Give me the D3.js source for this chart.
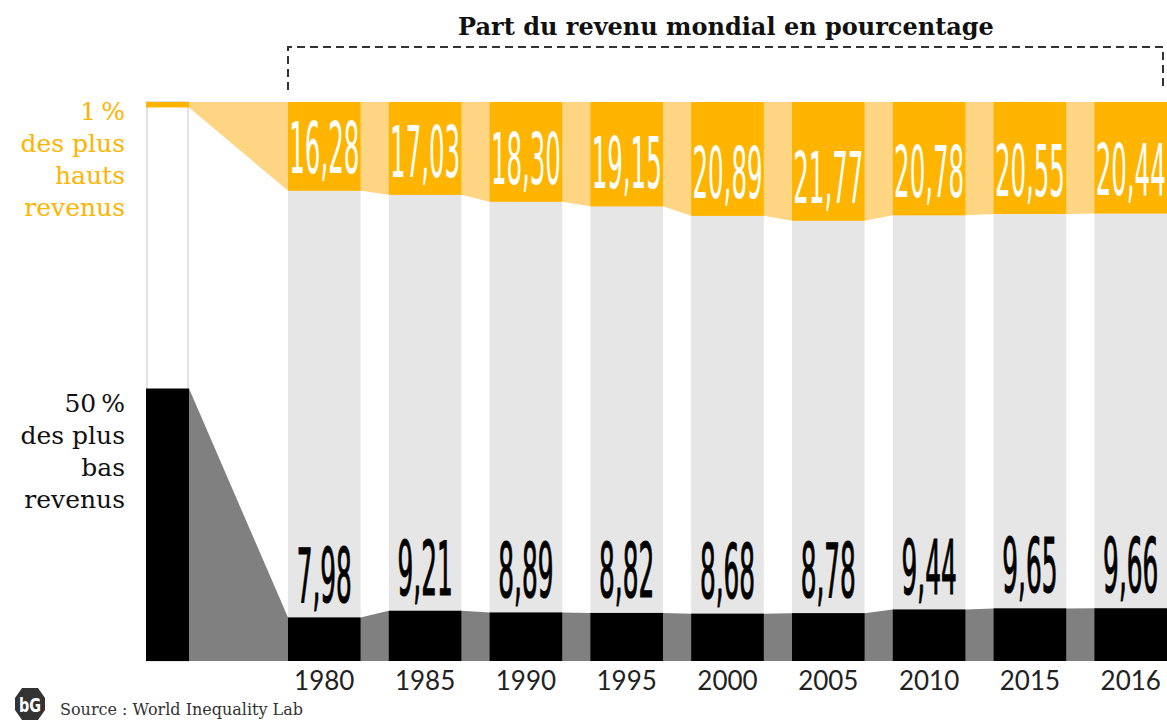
<!DOCTYPE html>
<html>
<head>
<meta charset="utf-8">
<script src="https://cdn.jsdelivr.net/npm/d3@7"></script>
<style>
  body { margin:0; background:#fff; }
  svg { display:block; }
</style>
</head>
<body>
<div id="chart"></div>
<script>
// data
var years = ["1980","1985","1990","1995","2000","2005","2010","2015","2016"];
var top1 = [16.28, 17.03, 18.30, 19.15, 20.89, 21.77, 20.78, 20.55, 20.44];
var bottom50 = [7.98, 9.21, 8.89, 8.82, 8.68, 8.78, 9.44, 9.65, 9.66];
var refShares = [1, 50]; // population share of each group

var W = 1167, H = 722;
var yTop = 102, yBase = 661;

var orange = "#ffb400", lightOrange = "#fed683", band = "#e6e6e6", midGray = "#808080";

var svg = d3.select("#chart").append("svg")
    .attr("width", W)
    .attr("height", H);

var xScale = d3.scaleBand()
    .domain(years)
    .range([288, 1167])
    .paddingInner(0.28)
    .paddingOuter(0);

var hScale = d3.scaleLinear()
    .domain([0, 100])
    .range([0, 545]);

var refX = 146, refW = 43;

var rows = years.map(function(y, i) {
    return { year: y, top: top1[i], bottom: bottom50[i] };
});

// points for the connecting areas : reference column right edge, then each bar's edges
var pts = [{ x: refX + refW, top: refShares[0], bottom: refShares[1] }];
rows.forEach(function(d) {
    pts.push({ x: xScale(d.year), top: d.top, bottom: d.bottom });
    pts.push({ x: xScale(d.year) + xScale.bandwidth(), top: d.top, bottom: d.bottom });
});

// grey background columns
svg.selectAll("rect.col")
    .data(rows)
    .enter()
    .append("rect")
    .attr("class", "col")
    .attr("x", function(d) { return xScale(d.year); })
    .attr("y", yTop)
    .attr("width", xScale.bandwidth())
    .attr("height", yBase - yTop)
    .style("fill", band);

var topArea = d3.area()
    .x(function(d) { return d.x; })
    .y0(yTop)
    .y1(function(d) { return yTop + hScale(d.top); });

var bottomArea = d3.area()
    .x(function(d) { return d.x; })
    .y0(yBase)
    .y1(function(d) { return yBase - hScale(d.bottom); });

svg.append("path").attr("d", topArea(pts)).style("fill", lightOrange);
svg.append("path").attr("d", bottomArea(pts)).style("fill", midGray);

// reference column
svg.append("rect")
    .attr("x", refX + 1).attr("y", yTop)
    .attr("width", refW - 2).attr("height", yBase - yTop)
    .style("fill", "#fff")
    .style("stroke", "#e3e3e3")
    .style("stroke-width", 2);
svg.append("rect")
    .attr("x", refX).attr("y", yTop)
    .attr("width", refW).attr("height", hScale(refShares[0]))
    .style("fill", orange);
svg.append("rect")
    .attr("x", refX).attr("y", yBase - hScale(refShares[1]))
    .attr("width", refW).attr("height", hScale(refShares[1]))
    .style("fill", "#000");

// orange bars
svg.selectAll("rect.top1")
    .data(rows)
    .enter()
    .append("rect")
    .attr("class", "top1")
    .attr("x", function(d) { return xScale(d.year); })
    .attr("y", yTop)
    .attr("width", xScale.bandwidth())
    .attr("height", function(d) { return hScale(d.top); })
    .style("fill", orange);

// black bars
svg.selectAll("rect.bot50")
    .data(rows)
    .enter()
    .append("rect")
    .attr("class", "bot50")
    .attr("x", function(d) { return xScale(d.year); })
    .attr("y", function(d) { return yBase - hScale(d.bottom); })
    .attr("width", xScale.bandwidth())
    .attr("height", function(d) { return hScale(d.bottom); })
    .style("fill", "#000");

var fmt = function(v) { return d3.format(".2f")(v).replace(".", ","); };
var numFont = "'DejaVu Sans Condensed', 'DejaVu Sans', sans-serif";

// value labels
svg.selectAll("text.vtop")
    .data(rows)
    .enter()
    .append("text")
    .attr("class", "vtop")
    .attr("x", function(d) { return xScale(d.year) + xScale.bandwidth() / 2; })
    .attr("y", function(d) { return yTop + hScale(d.top) - 18; })
    .attr("text-anchor", "middle")
    .attr("font-family", numFont)
    .attr("font-size", 72)
    .attr("textLength", function(d) { return fmt(d.top).length * 14; })
    .attr("lengthAdjust", "spacingAndGlyphs")
    .style("fill", "#fff")
    .text(function(d) { return fmt(d.top); });

svg.selectAll("text.vbot")
    .data(rows)
    .enter()
    .append("text")
    .attr("class", "vbot")
    .attr("x", function(d) { return xScale(d.year) + xScale.bandwidth() / 2; })
    .attr("y", function(d) { return yBase - hScale(d.bottom) - 16; })
    .attr("text-anchor", "middle")
    .attr("font-family", numFont)
    .attr("font-size", 74)
    .attr("textLength", function(d) { return fmt(d.bottom).length * 13.8; })
    .attr("lengthAdjust", "spacingAndGlyphs")
    .style("fill", "#000")
    .style("stroke", "#000")
    .style("stroke-width", 1.2)
    .text(function(d) { return fmt(d.bottom); });

// year labels
svg.selectAll("text.year")
    .data(rows)
    .enter()
    .append("text")
    .attr("class", "year")
    .attr("x", function(d) { return xScale(d.year) + xScale.bandwidth() / 2; })
    .attr("y", 690)
    .attr("text-anchor", "middle")
    .attr("font-family", "Lato, sans-serif")
    .attr("font-size", 26)
    .style("fill", "#222")
    .text(function(d) { return d.year; });

// left group labels
var serif = "'DejaVu Serif', serif";
var lab1 = ["1\u2009%", "des plus", "hauts", "revenus"];
var lab50 = ["50\u2009%", "des plus", "bas", "revenus"];

svg.selectAll("text.lab1")
    .data(lab1)
    .enter()
    .append("text")
    .attr("class", "lab1")
    .attr("x", 125)
    .attr("y", function(d, i) { return 120 + i * 32; })
    .attr("text-anchor", "end")
    .attr("font-family", serif)
    .attr("font-size", 25)
    .style("fill", orange)
    .text(function(d) { return d; });

svg.selectAll("text.lab50")
    .data(lab50)
    .enter()
    .append("text")
    .attr("class", "lab50")
    .attr("x", 125)
    .attr("y", function(d, i) { return 412 + i * 32; })
    .attr("text-anchor", "end")
    .attr("font-family", serif)
    .attr("font-size", 25)
    .style("fill", "#111")
    .text(function(d) { return d; });

// title and dashed bracket
svg.append("text")
    .attr("x", 726)
    .attr("y", 35)
    .attr("text-anchor", "middle")
    .attr("font-family", serif)
    .attr("font-size", 24)
    .attr("font-weight", 600)
    .style("fill", "#111")
    .text("Part du revenu mondial en pourcentage");

svg.append("path")
    .attr("d", "M288,90 V47 H1163 V90")
    .style("fill", "none")
    .style("stroke", "#333")
    .style("stroke-width", 2)
    .style("stroke-dasharray", "8,5");

// source
var logo = svg.append("g").attr("transform", "translate(30,704)");
logo.append("path")
    .attr("d", "M-8,-16 H8 L15,-6 V6 L8,16 H-8 L-15,6 V-6 Z")
    .style("fill", "#333");
logo.append("text")
    .attr("y", 8)
    .attr("text-anchor", "middle")
    .attr("font-family", "'DejaVu Sans Condensed', sans-serif")
    .attr("font-weight", "bold")
    .attr("font-size", 20)
    .attr("textLength", 22)
    .attr("lengthAdjust", "spacingAndGlyphs")
    .style("fill", "#fff")
    .text("bG");

svg.append("text")
    .attr("x", 60)
    .attr("y", 715)
    .attr("font-family", serif)
    .attr("font-size", 16)
    .style("fill", "#333")
    .text("Source : World Inequality Lab");
</script>
</body>
</html>
